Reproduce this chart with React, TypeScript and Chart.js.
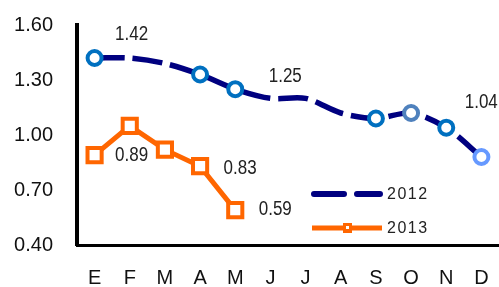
import React, { useEffect, useRef } from 'react';
import { Chart, registerables } from 'chart.js';
Chart.register(...registerables);

const months = ['E', 'F', 'M', 'A', 'M', 'J', 'J', 'A', 'S', 'O', 'N', 'D'];
const values2012 = [1.42, 1.42, 1.39, 1.33, 1.25, 1.2, 1.2, 1.12, 1.09, 1.12, 1.04, 0.88];
const values2013 = [0.89, 1.05, 0.92, 0.83, 0.59];
const yTickValues = [0.4, 0.7, 1.0, 1.3, 1.6];
const seriesNames = ['2012', '2013'];
const labels2012 = [
  { index: 0, text: '1.42' },
  { index: 4, text: '1.25' },
  { index: 10, text: '1.04' },
];
const labels2013 = [
  { index: 0, text: '0.89' },
  { index: 3, text: '0.83' },
  { index: 4, text: '0.59' },
];

const NAVY = '#000080';
const ORANGE = '#FF6600';

// offsets (px) of the value labels from their anchor points
const offsets2012 = [[37, -24], [50, -13], [35, -25]];
const offsets2013 = [[37, 0], [40, 2], [40, -1]];
const markerRadius2012 = [7, 0, 0, 7, 7, 0, 0, 0, 7, 7, 7, 7];
const markerColor2012 = ['#0070C0', '#0070C0', '#0070C0', '#0070C0', '#0070C0', '#0070C0', '#0070C0', '#0070C0', '#0070C0', '#4F81BD', '#0070C0', '#6699FF'];

const overlay = {
  id: 'overlay',
  afterDatasetsDraw(chart: any) {
    const ctx = chart.ctx as CanvasRenderingContext2D;
    const xs = chart.scales.x;
    const ys = chart.scales.y;
    const ca = chart.chartArea;
    ctx.save();
    ctx.font = '20px "Liberation Sans", Arial, sans-serif';
    ctx.fillStyle = '#222';
    ctx.textAlign = 'center';
    ctx.textBaseline = 'middle';
    const sets = [
      { labels: labels2012, values: values2012, offs: offsets2012 },
      { labels: labels2013, values: values2013, offs: offsets2013 },
    ];
    sets.forEach(({ labels, values, offs }) => {
      labels.forEach((l, i) => {
        const x = xs.getPixelForValue(l.index) + offs[i][0];
        const y = ys.getPixelForValue(values[l.index]) + offs[i][1];
        ctx.save();
        ctx.translate(x, y);
        ctx.scale(0.85, 1);
        ctx.fillText(l.text, 0, 0);
        ctx.restore();
      });
    });

    // legend
    const lx = ca.right - 187;
    const y1 = ca.bottom - 51;
    const y2 = ca.bottom - 17;
    ctx.lineCap = 'round';
    ctx.strokeStyle = NAVY;
    ctx.lineWidth = 6;
    ctx.setLineDash([30, 13]);
    ctx.beginPath();
    ctx.moveTo(lx + 2, y1);
    ctx.lineTo(lx + 68, y1);
    ctx.stroke();
    ctx.setLineDash([]);
    ctx.lineCap = 'butt';
    ctx.strokeStyle = ORANGE;
    ctx.lineWidth = 5;
    ctx.beginPath();
    ctx.moveTo(lx, y2);
    ctx.lineTo(lx + 70, y2);
    ctx.stroke();
    ctx.fillStyle = ORANGE;
    ctx.fillRect(lx + 31, y2 - 5, 9, 10);
    ctx.fillStyle = '#fff';
    ctx.fillRect(lx + 34, y2 - 2, 3, 3);

    ctx.font = '16px "Liberation Sans", Arial, sans-serif';
    (ctx as any).letterSpacing = '1.5px';
    ctx.fillStyle = '#222';
    ctx.textAlign = 'left';
    ctx.fillText(seriesNames[0], lx + 75, y1 + 1);
    ctx.fillText(seriesNames[1], lx + 75, y2 + 1);
    ctx.restore();
  },
};

export default function App() {
  const ref = useRef<HTMLCanvasElement>(null);
  useEffect(() => {
    const chart = new Chart(ref.current!, {
      type: 'line',
      data: {
        labels: months,
        datasets: [
          {
            label: seriesNames[0],
            data: values2012,
            borderColor: NAVY,
            borderWidth: 5.5,
            borderDash: [30, 8],
            tension: 0.3,
            pointRadius: markerRadius2012,
            pointBorderColor: markerColor2012,
            pointBackgroundColor: '#fff',
            pointBorderWidth: 4,
            fill: false,
          },
          {
            label: seriesNames[1],
            data: values2013,
            borderColor: ORANGE,
            borderWidth: 5,
            tension: 0,
            pointStyle: 'rect',
            pointRadius: 10,
            pointBorderColor: ORANGE,
            pointBackgroundColor: '#fff',
            pointBorderWidth: 4,
            fill: false,
          },
        ],
      },
      options: {
        responsive: false,
        animation: false,
        layout: { autoPadding: false, padding: { top: 25, right: 0, left: 0, bottom: 0 } },
        plugins: { legend: { display: false }, tooltip: { enabled: false } },
        scales: {
          x: {
            offset: true,
            grid: { display: false, drawTicks: true, tickLength: 18 },
            border: { display: true, color: '#000', width: 3 },
            ticks: {
              color: '#111',
              padding: 3,
              font: { family: '"Liberation Sans", Arial, sans-serif', size: 20 },
            },
            afterFit: (s: any) => { s.height = 42; s.paddingLeft = 0; s.paddingRight = 0; },
          },
          y: {
            min: 0.4,
            max: 1.6,
            afterBuildTicks: (s: any) => { s.ticks = yTickValues.map((v) => ({ value: v })); },
            grid: { display: false, drawTicks: true, tickLength: 21 },
            border: { display: true, color: '#000', width: 4 },
            ticks: {
              color: '#111',
              padding: 3,
              font: { family: '"Liberation Sans", Arial, sans-serif', size: 20 },
              callback: (v: any) => Number(v).toFixed(2),
            },
            afterFit: (s: any) => { s.width = 77; s.paddingTop = 0; s.paddingBottom = 0; },
          },
        },
      },
      plugins: [overlay],
    });
    return () => chart.destroy();
  }, []);
  return (
    <div style={{ position: 'fixed', left: 0, top: 0, width: 499, height: 287, background: '#fff' }}>
      <canvas ref={ref} width={499} height={287} />
    </div>
  );
}
